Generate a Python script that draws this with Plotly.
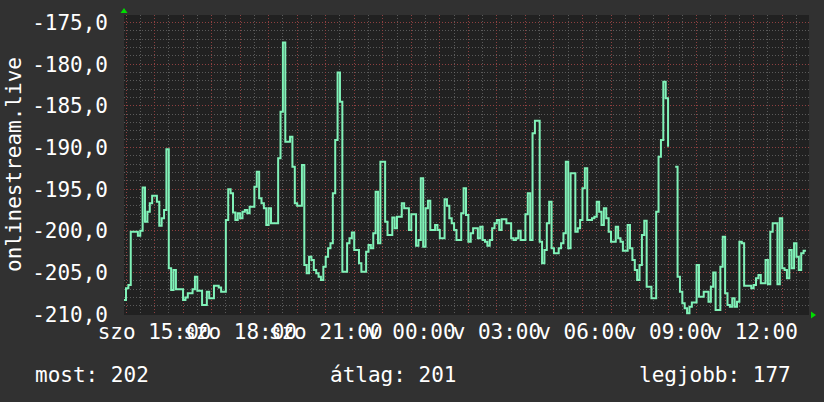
import pandas as pd
import plotly.graph_objects as go

# ---- data (5-minute samples, Saturday 13:55 -> Sunday 13:50) ----
start_time = "2024-03-16 13:55"
values = [
    -208.3, -206.9, -206.5, -200.1, -200.1, -200.1, -200.6, -200.0, -194.8, -198.9, -197.7, -196.7,
    -195.8, -195.8, -196.5, -199.4, -198.5, -197.5, -190.2, -204.5, -207.1, -204.7, -207.0, -207.0,
    -207.0, -208.3, -208.0, -207.5, -207.5, -207.0, -205.5, -207.2, -207.2, -208.9, -208.9, -207.3,
    -208.1, -208.1, -206.6, -206.6, -206.8, -207.3, -207.3, -198.7, -195.0, -195.5, -197.8, -198.7,
    -197.9, -198.5, -197.7, -197.5, -197.9, -197.1, -197.1, -194.7, -192.9, -196.1, -196.7, -197.3,
    -199.3, -197.3, -199.1, -199.1, -199.1, -191.3, -185.7, -177.4, -189.3, -189.3, -188.7, -192.3,
    -196.7, -197.0, -197.0, -192.1, -204.1, -205.1, -203.1, -203.5, -204.7, -205.1, -205.5, -205.9,
    -204.3, -203.1, -202.1, -201.5, -195.5, -189.1, -181.0, -184.5, -204.9, -204.9, -201.5, -200.9,
    -200.2, -202.3, -202.3, -203.9, -204.9, -204.9, -202.5, -201.7, -202.1, -200.3, -195.3, -201.5,
    -191.7, -191.7, -198.9, -200.5, -200.5, -198.4, -199.7, -198.3, -198.3, -196.7, -197.3, -197.3,
    -199.9, -198.0, -198.0, -201.8, -201.1, -193.7, -201.9, -197.3, -196.4, -199.9, -199.9, -199.3,
    -199.9, -200.9, -200.9, -196.2, -197.0, -198.5, -199.1, -199.9, -201.1, -201.1, -197.9, -194.9,
    -198.1, -201.3, -200.3, -199.7, -199.7, -200.9, -199.5, -201.1, -201.3, -201.8, -201.1, -199.7,
    -199.1, -198.7, -199.9, -198.6, -198.6, -199.1, -199.1, -200.9, -201.1, -200.9, -200.0, -201.1,
    -201.1, -198.0, -195.5, -201.1, -188.3, -186.8, -186.8, -201.3, -203.9, -202.3, -199.1, -196.5,
    -202.1, -202.7, -202.7, -202.1, -201.5, -200.3, -191.7, -202.1, -193.1, -193.1, -200.1, -199.7,
    -198.7, -194.9, -192.5, -198.7, -198.7, -198.5, -198.3, -196.5, -197.7, -199.3, -197.3, -198.5,
    -200.1, -201.3, -201.3, -199.5, -200.9, -201.3, -202.4, -202.4, -199.3, -202.1, -203.5, -204.7,
    -205.9, -204.1, -200.5, -198.8, -206.7, -206.7, -208.1, -208.1, -197.7, -191.1, -189.1, -182.1,
    -184.1, -189.9, None, None, -192.3, -205.5, -207.3, -208.7, -209.3, -209.9, -209.1, -208.6,
    -208.6, -204.1, -207.9, -207.9, -207.3, -207.3, -208.5, -206.7, -205.0, -209.5, -209.5, -204.3,
    -200.7, -207.5, -208.9, -209.1, -208.1, -209.1, -208.5, -201.3, -201.5, -206.6, -206.6, -206.6,
    -206.9, -206.5, -205.7, -205.3, -206.3, -206.3, -203.5, -206.4, -200.1, -199.1, -199.1, -206.4,
    -198.5, -204.5, -204.7, -205.7, -202.3, -204.5, -201.5, -203.1, -204.7, -202.7, -202.4, -202.4,
]
times = pd.date_range(start_time, periods=len(values), freq="5min")

x_range = ["2024-03-16 13:55:48", "2024-03-17 13:56:24"]
x_tick_hours = pd.date_range("2024-03-16 14:00", "2024-03-17 13:00", freq="1h")
x_label_map = {
    "2024-03-16 15:00": "szo 15:00", "2024-03-16 18:00": "szo 18:00",
    "2024-03-16 21:00": "szo 21:00", "2024-03-17 00:00": "v 00:00",
    "2024-03-17 03:00": "v 03:00", "2024-03-17 06:00": "v 06:00",
    "2024-03-17 09:00": "v 09:00", "2024-03-17 12:00": "v 12:00",
}
x_tick_text = [x_label_map.get(t.strftime("%Y-%m-%d %H:%M"), "") for t in x_tick_hours]

y_tick_vals = [-210, -205, -200, -195, -190, -185, -180, -175]
y_tick_text = ["-210,0", "-205,0", "-200,0", "-195,0", "-190,0", "-185,0", "-180,0", "-175,0"]
y_range = [-210.1, -174.1]

axis_title = "onlinestream.live"
summary = ["most: 202", "átlag: 201", "legjobb: 177"]

FONT = "DejaVu Sans Mono"
BG = "#313131"
PLOT_BG = "#212121"
LINE = "#80F2B8"
MAJOR = "rgba(150,60,60,0.85)"
MINOR = "rgba(110,110,110,0.75)"

fig = go.Figure()
fig.add_trace(go.Scatter(
    x=times, y=values, mode="lines", line=dict(color=LINE, width=2, shape="hv"),
    connectgaps=False, hoverinfo="skip", showlegend=False,
))

fig.update_layout(
    width=824, height=402,
    margin=dict(l=124, r=15, t=15, b=87),
    paper_bgcolor=BG, plot_bgcolor=PLOT_BG,
    font=dict(family=FONT, size=21, color="#ffffff"),
    showlegend=False,
)
fig.update_xaxes(
    type="date", range=x_range,
    tickmode="array", tickvals=x_tick_hours, ticktext=x_tick_text, tickangle=0,
    showgrid=True, gridcolor=MAJOR, griddash="1px,2px", gridwidth=1,
    ticks="", ticklabelstandoff=2,
    tickfont=dict(family=FONT, size=21, color="#ffffff"),
    minor=dict(dtick=1800000, tick0="2024-03-16 14:00", showgrid=True,
               gridcolor=MINOR, griddash="1px,2px", gridwidth=1),
    showline=False, zeroline=False,
)
fig.update_yaxes(
    range=y_range, tickmode="array", tickvals=y_tick_vals, ticktext=y_tick_text,
    showgrid=True, gridcolor=MAJOR, griddash="1px,2px", gridwidth=1,
    ticks="", ticklabelstandoff=15,
    tickfont=dict(family=FONT, size=21, color="#ffffff"),
    minor=dict(dtick=1, tick0=-210, showgrid=True,
               gridcolor=MINOR, griddash="1px,2px", gridwidth=1),
    showline=False, zeroline=False,
)

fig.add_annotation(
    text=axis_title, xref="paper", yref="paper", x=(14 - 124) / 685, y=0.5,
    xanchor="center", yanchor="middle", textangle=-90, showarrow=False,
    font=dict(family=FONT, size=21, color="#ffffff"),
)
for txt, px in zip(summary, [33, 328, 637]):
    fig.add_annotation(
        text=txt, xref="paper", yref="paper", x=(px - 124) / 685, y=-(375 - 315) / 300,
        xanchor="left", yanchor="middle", showarrow=False,
        font=dict(family=FONT, size=21, color="#ffffff"),
    )

# axis arrows (rrdtool style)
fig.add_shape(type="path", xref="paper", yref="paper", xsizemode="pixel", ysizemode="pixel",
              xanchor=0, yanchor=1, path="M -3.5,2 L 3.5,2 L 0,7 Z",
              fillcolor="#00dd00", line=dict(width=0))
fig.add_shape(type="path", xref="paper", yref="paper", xsizemode="pixel", ysizemode="pixel",
              xanchor=1, yanchor=0, path="M 2,-3.5 L 2,3.5 L 7,0 Z",
              fillcolor="#00dd00", line=dict(width=0))

fig.write_html(
    "out.html",
    config={"displayModeBar": False},
    post_script="document.body.style.margin='0';document.body.style.background='#313131';",
)
